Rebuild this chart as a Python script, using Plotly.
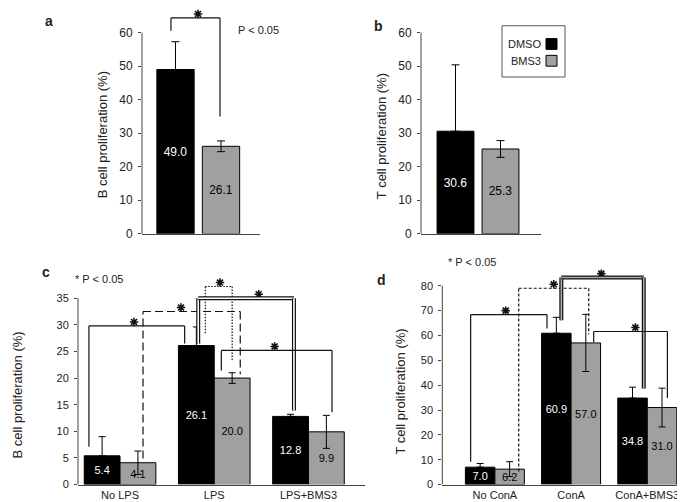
import plotly.graph_objects as go

W, H = 685, 502
FONT = "Liberation Sans, Arial, sans-serif"
BLACK = "#000000"
GRAY = "#a0a0a0"
INK = "#222222"

# ---------------- data ----------------
ab_groups = ["DMSO", "BMS3"]
a_values = [49.0, 26.1]
a_err = [8.3, 1.6]
b_values = [30.6, 25.3]
b_err = [19.8, 2.5]

c_categories = ["No LPS", "LPS", "LPS+BMS3"]
c_dmso = [5.4, 26.1, 12.8]
c_dmso_err = [3.6, 3.5, 0.4]
c_bms3 = [4.1, 20.0, 9.9]
c_bms3_err = [2.2, 1.0, 3.1]

d_categories = ["No ConA", "ConA", "ConA+BMS3"]
d_dmso = [7.0, 60.9, 34.8]
d_dmso_err = [1.5, 6.4, 4.4]
d_bms3 = [6.2, 57.0, 31.0]
d_bms3_err = [3.0, 11.5, 7.8]

ab_yticks = [0, 10, 20, 30, 40, 50, 60]
c_yticks = [0, 5, 10, 15, 20, 25, 30, 35]
d_yticks = [0, 10, 20, 30, 40, 50, 60, 70, 80]

# significance brackets: (x_left, y_left_end, y_top, x_right, y_right_end, x_star, style)
a_brackets = [(-0.10, 60.6, 64.4, 0.978, 35.0, 0.495, "solid")]
c_brackets = [
    (-0.33, 7.1, 29.8, 0.686, 26.5, 0.149, "solid"),
    (0.244, 4.9, 32.5, 1.276, 20.7, 0.647, "dash"),
    (0.905, 28.4, 37.2, 1.19, 23.4, 1.061, "dot"),
    (0.83, 26.5, 35.0, 1.846, 13.9, 1.472, "double"),
    (1.075, 21.4, 25.2, 2.25, 13.6, 1.641, "solid"),
]
d_brackets = [
    (-0.318, 9.2, 68.4, 0.684, 62.8, 0.142, "solid"),
    (0.313, 5.3, 79.0, 1.232, 60.5, 0.772, "sdash"),
    (0.872, 66.1, 83.3, 1.954, 38.7, 1.397, "double"),
    (1.297, 57.3, 61.6, 2.264, 34.8, 1.844, "solid"),
]


def px(x):
    return x / W


def py(y):
    return 1 - y / H


# panel geometry (pixels): zero line, top of range, range max
PANELS = {
    "a": dict(y0=229.0, ytop=4.6, ymax=66),
    "c": dict(y0=483.3, ytop=278.1, ymax=38),
    "d": dict(y0=483.3, ytop=269.1, ymax=85),
}

fig = go.Figure()


def fmt(vals):
    return [f"{v:.1f}" for v in vals]


# panel a / b (one trace each, two bars); lower whisker hidden inside the black bar
for vals, err, xa, ya in [(a_values, a_err, "x", "y"), (b_values, b_err, "x2", "y2")]:
    fig.add_trace(go.Bar(
        x=list(range(len(ab_groups))), y=vals, width=0.82, offset=-0.41,
        marker=dict(color=[BLACK, GRAY], line=dict(color=BLACK, width=1)),
        error_y=dict(type="data", array=err, arrayminus=[0, err[1]], color=BLACK,
                     thickness=1, width=4),
        text=fmt(vals), textposition="inside", insidetextanchor="middle", constraintext="none",
        textfont=dict(color=["white", "black"], size=12, family=FONT),
        xaxis=xa, yaxis=ya, showlegend=False, hoverinfo="skip"))

# panel c / d
for cats, dm, dme, bm, bme, xa, ya, w, fs in [
    (c_categories, c_dmso, c_dmso_err, c_bms3, c_bms3_err, "x3", "y3", 0.38, 11),
    (d_categories, d_dmso, d_dmso_err, d_bms3, d_bms3_err, "x4", "y4", 0.387, 11),
]:
    xs = list(range(len(cats)))
    fig.add_trace(go.Bar(
        x=xs, y=dm, width=w, offset=-w, name="DMSO",
        marker=dict(color=BLACK, line=dict(color=BLACK, width=1)),
        error_y=dict(type="data", array=dme, arrayminus=[0] * len(dme), color=BLACK,
                     thickness=1, width=3.5),
        text=fmt(dm), textposition="inside", insidetextanchor="middle", constraintext="none",
        textfont=dict(color="white", size=fs, family=FONT),
        xaxis=xa, yaxis=ya, showlegend=False, hoverinfo="skip"))
    fig.add_trace(go.Bar(
        x=xs, y=bm, width=w, offset=0, name="BMS3",
        marker=dict(color=GRAY, line=dict(color=BLACK, width=1)),
        error_y=dict(type="data", array=bme, arrayminus=bme, color=BLACK, thickness=1, width=3.5),
        text=fmt(bm), textposition="inside", insidetextanchor="middle", constraintext="none",
        textfont=dict(color="black", size=fs, family=FONT),
        xaxis=xa, yaxis=ya, showlegend=False, hoverinfo="skip"))

shapes = []
annotations = []


def add_brackets(brackets, xa, ya, inner, geom):
    for xl, yl, yt, xr, yr, xs, style in brackets:
        segs = [(xl, yl, xl, yt), (xl, yt, xr, yt), (xr, yt, xr, yr)]
        for x0, y0, x1, y1 in segs:
            if style == "double":
                shapes.append(dict(type="line", xref=xa, yref=ya, x0=x0, y0=y0, x1=x1, y1=y1,
                                   line=dict(color="#111111", width=4)))
                shapes.append(dict(type="line", xref=xa, yref=ya, x0=x0, y0=y0, x1=x1, y1=y1,
                                   line=dict(color=inner, width=1.6)))
            else:
                dash = {"solid": "solid", "dash": "8px,4px", "sdash": "3px,2px",
                        "dot": "1.5px,1.5px"}[style]
                shapes.append(dict(type="line", xref=xa, yref=ya, x0=x0, y0=y0, x1=x1, y1=y1,
                                   line=dict(color="#111111", width=1.2, dash=dash)))
    # significance stars sit ~4 px above each bracket's top line
    unit = (geom["y0"] - geom["ytop"]) / geom["ymax"]
    lift = 4.0 / unit
    fig.add_trace(go.Scatter(
        x=[b[5] for b in brackets], y=[b[2] + lift for b in brackets], mode="markers",
        marker=dict(symbol="asterisk-open", size=7, color="#111111",
                    line=dict(color="#111111", width=1.6)),
        cliponaxis=False, xaxis=xa, yaxis=ya, showlegend=False, hoverinfo="skip"))


add_brackets(a_brackets, "x", "y", "white", PANELS["a"])
add_brackets(c_brackets, "x3", "y3", "white", PANELS["c"])
add_brackets(d_brackets, "x4", "y4", "#aaaaaa", PANELS["d"])

# y axis lines (only up to the last tick)
for ya, top in [("y", 60), ("y2", 60), ("y3", 35), ("y4", 80)]:
    xa = "x" + ya[1:]
    shapes.append(dict(type="line", xref=xa + " domain", yref=ya, x0=0, x1=0, y0=0, y1=top,
                       line=dict(color="#444444", width=1)))

# legend (panel b)
shapes.append(dict(type="rect", xref="paper", yref="paper", x0=px(494), x1=px(557),
                   y0=py(70), y1=py(18), line=dict(color="#555555", width=1)))
shapes.append(dict(type="rect", xref="paper", yref="paper", x0=px(538), x1=px(549),
                   y0=py(42), y1=py(31), fillcolor=BLACK, line=dict(color=BLACK, width=1)))
shapes.append(dict(type="rect", xref="paper", yref="paper", x0=px(538), x1=px(549),
                   y0=py(59), y1=py(48), fillcolor=GRAY, line=dict(color=BLACK, width=1)))
for label, yc in zip(ab_groups, [36.5, 53.5]):
    annotations.append(dict(x=px(535), y=py(yc), xref="paper", yref="paper", text=label,
                            showarrow=False, xanchor="right", yanchor="middle",
                            font=dict(size=11, color=INK, family=FONT)))

# texts
texts = [
    ("<b>a</b>", 41, 13, 14),
    ("<b>b</b>", 370, 18, 14),
    ("<b>c</b>", 38, 268, 14),
    ("<b>d</b>", 374, 276, 14),
    ("P < 0.05", 250, 22.5, 11),
    ("* P < 0.05", 91.5, 275, 11),
    ("* P < 0.05", 464, 257.5, 11),
]
for t, x, y, s in texts:
    annotations.append(dict(x=px(x), y=py(y), xref="paper", yref="paper", text=t, showarrow=False,
                            xanchor="center", yanchor="middle",
                            font=dict(size=s, color=INK, family=FONT)))

ytitles = [
    ("B cell proliferation (%)", 94, 129),
    ("T cell proliferation (%)", 373, 130),
    ("B cell proliferation (%)", 10, 393),
    ("T cell proliferation (%)", 393, 389),
]
for t, x, y in ytitles:
    annotations.append(dict(x=px(x), y=py(y), xref="paper", yref="paper", text=t, showarrow=False,
                            textangle=-90, xanchor="center", yanchor="middle",
                            font=dict(size=13, color=INK, family=FONT)))

yax_common = dict(showgrid=False, zeroline=False, showline=False, ticks="outside", ticklen=3,
                  tickcolor="#444444", tickfont=dict(size=12, color=INK, family=FONT),
                  ticklabelstandoff=3)
xax_common = dict(showgrid=False, zeroline=False, showline=True, linecolor="#444444", linewidth=1,
                  ticks="")
cat_font = dict(size=11, color=INK, family=FONT)
small_tick = {**yax_common, "tickfont": dict(size=11, color=INK, family=FONT)}

pa, pc, pd_ = PANELS["a"], PANELS["c"], PANELS["d"]
fig.update_layout(
    width=W, height=H, autosize=False, margin=dict(l=0, r=0, t=0, b=0),
    paper_bgcolor="white", plot_bgcolor="white", barmode="overlay",
    font=dict(family=FONT, color=INK),
    xaxis=dict(domain=[px(134), px(252)], range=[-0.736, 1.857], showticklabels=False,
               anchor="y", **xax_common),
    yaxis=dict(domain=[py(pa["y0"]), py(pa["ytop"])], range=[0, pa["ymax"]], tickvals=ab_yticks,
               anchor="x", **yax_common),
    xaxis2=dict(domain=[px(413), px(533)], range=[-0.767, 1.9], showticklabels=False,
                anchor="y2", **xax_common),
    yaxis2=dict(domain=[py(pa["y0"]), py(pa["ytop"])], range=[0, pa["ymax"]], tickvals=ab_yticks,
                anchor="x2", **yax_common),
    xaxis3=dict(domain=[px(70), px(357)], range=[-0.446, 2.6], tickvals=list(range(3)),
                ticktext=c_categories, tickfont=cat_font, anchor="y3", ticklabelstandoff=0,
                **xax_common),
    yaxis3=dict(domain=[py(pc["y0"]), py(pc["ytop"])], range=[0, pc["ymax"]], tickvals=c_yticks,
                anchor="x3", **small_tick),
    xaxis4=dict(domain=[px(434.3), 1.0], range=[-0.69, 2.6], tickvals=list(range(3)),
                ticktext=d_categories, tickfont=cat_font, anchor="y4", ticklabelstandoff=0,
                **xax_common),
    yaxis4=dict(domain=[py(pd_["y0"]), py(pd_["ytop"])], range=[0, pd_["ymax"]],
                tickvals=d_yticks, anchor="x4", **small_tick),
    shapes=shapes, annotations=annotations,
)

fig.write_html("out.html")
